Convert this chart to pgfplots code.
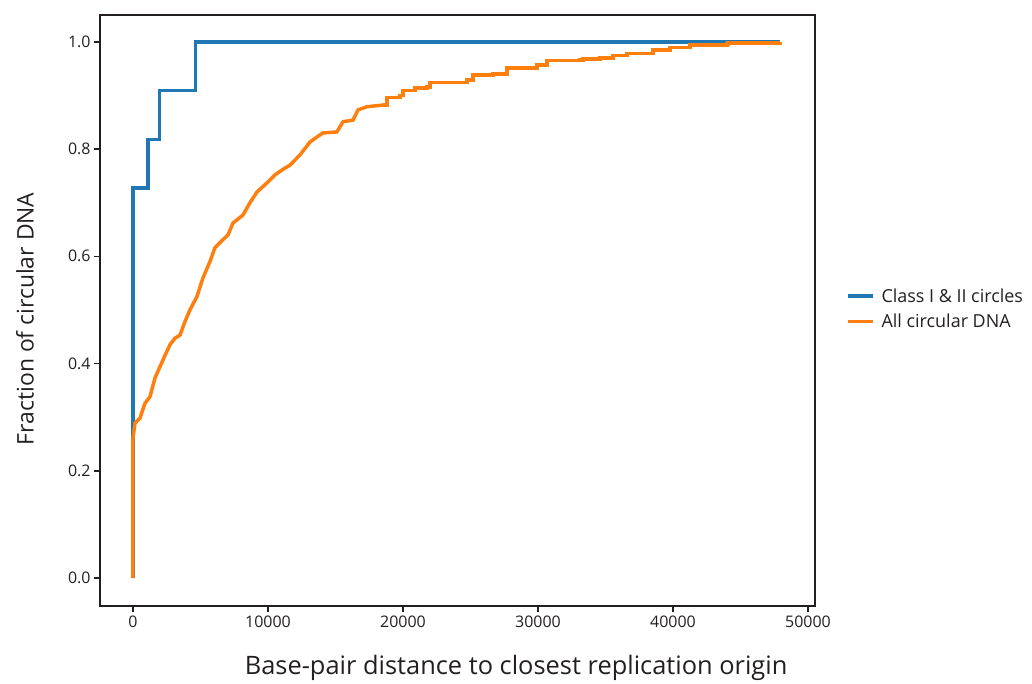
\documentclass[border=0pt]{standalone}
\usepackage{pgfplots}
\pgfplotsset{compat=1.18}
\usepackage{fontspec}
\setmainfont{Open Sans}
\definecolor{mblue}{HTML}{1F77B4}
\definecolor{morange}{HTML}{FF7F0E}
\definecolor{txt}{HTML}{231F20}
\begin{document}
\begin{tikzpicture}[x=1bp,y=1bp]
\path[use as bounding box] (-100,-78) rectangle (932,606);
\begin{axis}[
  at={(0,0)}, anchor=south west,
  scale only axis, width=715bp, height=591bp,
  xmin=-2440, xmax=50520, ymin=-0.052, ymax=1.050,
  axis line style={txt, line width=1.5bp},
  xtick pos=left, ytick pos=left,
  xtick={0,10000,20000,30000,40000,50000},
  ytick={0,0.2,0.4,0.6,0.8,1.0},
  tick align=outside, major tick length=6bp,
  tick style={txt, line width=1.5bp},
  scaled ticks=false,
  xticklabel style={/pgf/number format/1000 sep={}, font=\fontsize{16}{18}\selectfont, text=txt},
  yticklabel style={/pgf/number format/fixed, /pgf/number format/fixed zerofill, /pgf/number format/precision=1, font=\fontsize{16}{18}\selectfont, text=txt},
  /pgf/number format/assume math mode=true,
  xlabel={Base-pair distance to closest replication origin},
  ylabel={Fraction of circular DNA},
  xlabel style={at={(axis description cs:0.582,-0.105)}, anchor=center, font=\fontsize{25.5}{30}\selectfont, text=txt},
  ylabel style={at={(axis description cs:-0.105,0.486)}, anchor=center, font=\fontsize{23}{28}\selectfont, text=txt},
  legend style={at={(axis description cs:1.039,0.503)}, anchor=west, draw=none, fill=none,
    font=\fontsize{18}{21}\selectfont, text=txt, row sep=6bp},
  legend cell align=left,
  legend image code/.code={\draw[#1] (0bp,0bp) -- (25bp,0bp);},
  clip=false,
]
\addplot[mblue, line width=3.5bp] coordinates {
(0,0) (0,0.7273) (1112,0.7273) (1112,0.8182) (1977,0.8182) (1977,0.9091) (4626,0.9091) (4626,1.0) (47940,1.0)
};
\addlegendentry{\hspace{5bp}Class I \& II circles}
\addplot[morange, line width=3.5bp] coordinates {
(0,0) (0,0.26) (150,0.289) (520,0.298) (700,0.312) (890,0.326) (1260,0.338) (1630,0.373) (2000,0.394) (2370,0.415) (2740,0.435) (3100,0.447) (3480,0.453) (3850,0.478) (4220,0.50) (4740,0.525) (5190,0.56) (5700,0.59) (6070,0.616) (6670,0.631) (7040,0.64) (7410,0.662) (8150,0.677) (8670,0.70) (9190,0.72) (9930,0.737) (10520,0.752) (11100,0.762) (11630,0.77) (12370,0.789) (13110,0.813) (13600,0.822) (14070,0.830) (15110,0.832) (15560,0.851) (16300,0.854) (16670,0.873) (17330,0.879) (18520,0.882)
};
\addlegendentry{\hspace{5bp}All circular DNA}
\addplot[morange, line width=3.5bp, const plot, forget plot] coordinates {
(18520,0.882) (18800,0.896) (19780,0.900) (20000,0.909) (20890,0.914) (21780,0.916) (22000,0.924) (24740,0.929) (25190,0.938) (26670,0.940) (27700,0.951) (29930,0.957) (30670,0.965) (33110,0.966) (33330,0.968) (34590,0.970) (35560,0.974) (36590,0.978) (38520,0.985) (39780,0.989) (41260,0.994) (44000,0.996) (44070,0.998) (47940,1.0) (47940,1.0)
};
\end{axis}
\end{tikzpicture}
\end{document}
